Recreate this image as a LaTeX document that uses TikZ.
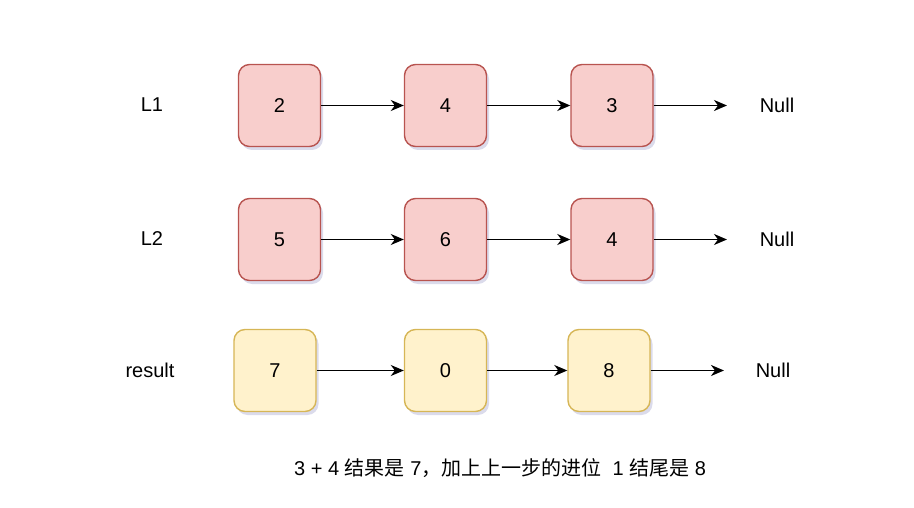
\documentclass[tikz,border=0pt]{standalone}
\usepackage{fontspec}
\setmainfont{Liberation Sans}
\newfontfamily\cjk{Noto Sans CJK SC}
\usetikzlibrary{arrows.meta,shadows}
\definecolor{redfill}{HTML}{F8CECC}
\definecolor{redline}{HTML}{B85450}
\definecolor{yelfill}{HTML}{FFF2CC}
\definecolor{yelline}{HTML}{D6B656}
\begin{document}
\begin{tikzpicture}[x=1pt,y=-1pt,
  every node/.style={font=\fontsize{20}{24}\selectfont},
  cell/.style={draw, line width=1.4pt, rounded corners=11pt, minimum width=82pt, minimum height=82pt, inner sep=0pt,
    drop shadow={shadow xshift=2.5pt, shadow yshift=-3.5pt, opacity=0.22, fill=gray!70!blue}},
  redcell/.style={cell, fill=redfill, draw=redline},
  yelcell/.style={cell, fill=yelfill, draw=yelline},
  link/.style={line width=1.6pt, -{Stealth[length=13pt,width=11pt,inset=4pt]}},
  lbl/.style={inner sep=0pt}]
\useasboundingbox (0,0) rectangle (914,508);
% row 1
\node[lbl] (l1) at (152,105) {L1};
\node[redcell] (a1) at (279.5,105.5) {2};
\node[redcell] (a2) at (445.5,105.5) {4};
\node[redcell] (a3) at (612,105.5) {3};
\coordinate (ae) at (727,105.5);
\node[lbl] (an) at (777,105) {Null};
\draw[link] (a1) -- (a2);
\draw[link] (a2) -- (a3);
\draw[link] (a3) -- (ae);
% row 2
\node[lbl] (l2) at (152,239) {L2};
\node[redcell] (b1) at (279.5,239.5) {5};
\node[redcell] (b2) at (445.5,239.5) {6};
\node[redcell] (b3) at (612,239.5) {4};
\coordinate (be) at (727,239.5);
\node[lbl] (bn) at (777,239) {Null};
\draw[link] (b1) -- (b2);
\draw[link] (b2) -- (b3);
\draw[link] (b3) -- (be);
% row 3
\node[lbl] (lr) at (150,370) {result};
\node[yelcell] (c1) at (275,370.5) {7};
\node[yelcell] (c2) at (445.5,370.5) {0};
\node[yelcell] (c3) at (609,370.5) {8};
\coordinate (ce) at (724,370.5);
\node[lbl] (cn) at (773,370) {Null};
\draw[link] (c1) -- (c2);
\draw[link] (c2) -- (c3);
\draw[link] (c3) -- (ce);
% note
\node[lbl] (note) at (500,468) {3 + 4 {\cjk 结果是} 7{\cjk ，加上上一步的进位} \ 1 {\cjk 结尾是} 8};
\end{tikzpicture}
\end{document}
